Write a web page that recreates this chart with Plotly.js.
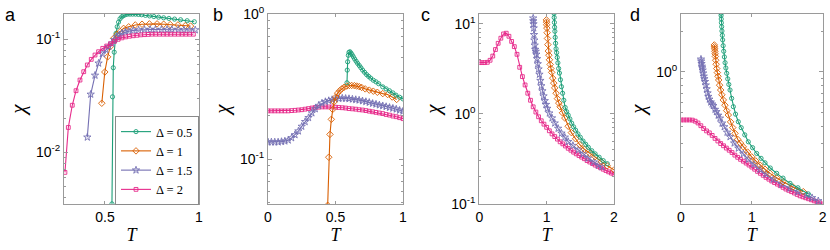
<!DOCTYPE html>
<html>
<head>
<meta charset="utf-8">
<script src="https://cdn.plot.ly/plotly-3.0.1.min.js"></script>
<style>html,body{margin:0;padding:0;background:#fff}#chart{width:830px;height:250px}</style>
</head>
<body>
<div id="chart"></div>
<script>
// ---------- Data ----------
const seriesNames = ["Δ = 0.5", "Δ = 1", "Δ = 1.5", "Δ = 2"];
const xTicksA = [0.5, 1], xTickTextA = ["0.5", "1"];
const xTicksB = [0, 0.5, 1], xTickTextB = ["0", "0.5", "1"];
const xTicksCD = [0, 1, 2], xTickTextCD = ["0", "1", "2"];
const yTicksA = [0.01, 0.1], yTickTextA = ["10<sup>-2</sup>", "10<sup>-1</sup>"];
const yTicksB = [0.1, 1], yTickTextB = ["10<sup>-1</sup>", "10<sup>0</sup>"];
const yTicksC = [0.1, 1, 10], yTickTextC = ["10<sup>-1</sup>", "10<sup>0</sup>", "10<sup>1</sup>"];
const yTicksD = [1], yTickTextD = ["10<sup>0</sup>"];
const yMinorA = [0.004,0.005,0.006,0.007,0.008,0.009,0.02,0.03,0.04,0.05,0.06,0.07,0.08,0.09];
const yMinorB = [0.05,0.06,0.07,0.08,0.09,0.2,0.3,0.4,0.5,0.6,0.7,0.8,0.9];
const yMinorC = [0.2,0.3,0.4,0.5,0.6,0.7,0.8,0.9,2,3,4,5,6,7,8,9];
const yMinorD = [0.2,0.3,0.4,0.5,0.6,0.7,0.8,0.9,2];

// Panel a
const aT05 = [0.537,0.540,0.544,0.549,0.554,0.559,0.565,0.572,0.580,0.589,0.598,0.608,0.620,0.633,0.647,0.662,0.678,0.695,0.715,0.737,0.760,0.785,0.812,0.840,0.870,0.902,0.937,0.975];
const aX05 = [0.0035,0.031,0.056,0.077,0.097,0.113,0.129,0.142,0.152,0.158,0.162,0.165,0.167,0.167,0.167,0.167,0.166,0.165,0.163,0.161,0.159,0.157,0.155,0.153,0.151,0.149,0.146,0.143];
const aT1 = [0.483,0.499,0.514,0.528,0.546,0.564,0.581,0.599,0.626,0.661,0.697,0.736,0.777,0.812,0.847,0.888,0.927,0.955];
const aX1 = [0.0272,0.0514,0.070,0.086,0.102,0.111,0.117,0.125,0.129,0.134,0.136,0.137,0.137,0.136,0.135,0.134,0.132,0.131];
const aT15 = [0.406,0.424,0.447,0.466,0.486,0.505,0.520,0.537,0.550,0.564,0.577,0.590,0.608,0.626,0.650,0.679,0.710,0.740,0.768,0.800,0.830,0.856,0.890,0.920,0.950,0.980];
const aX15 = [0.0136,0.0326,0.048,0.0614,0.0745,0.081,0.0865,0.0922,0.099,0.105,0.109,0.113,0.116,0.118,0.120,0.121,0.122,0.122,0.122,0.122,0.122,0.122,0.122,0.121,0.121,0.121];
const aT2 = [0.287,0.305,0.326,0.346,0.367,0.387,0.406,0.427,0.447,0.466,0.488,0.509,0.530,0.550,0.570,0.590,0.610,0.630,0.650,0.670,0.690,0.710,0.730,0.750,0.770,0.790,0.810,0.830,0.850,0.870,0.890,0.910,0.930,0.950,0.970];
const aX2 = [0.00665,0.0166,0.0261,0.0351,0.0436,0.0517,0.0593,0.0665,0.0726,0.0777,0.0832,0.0872,0.0915,0.096,0.100,0.103,0.105,0.1065,0.1075,0.1085,0.1095,0.110,0.1105,0.111,0.111,0.111,0.111,0.111,0.111,0.111,0.111,0.111,0.111,0.111,0.111];

// Panel b
const bT05 = [0.585,0.587,0.590,0.595,0.600,0.607,0.615,0.623,0.632,0.642,0.653,0.664,0.676,0.688,0.701,0.715,0.730,0.745,0.760,0.780,0.800,0.820,0.850,0.875,0.900,0.925,0.948,0.975,1.000];
const bX05 = [0.336,0.411,0.469,0.520,0.545,0.550,0.538,0.524,0.508,0.490,0.473,0.457,0.442,0.427,0.411,0.397,0.383,0.372,0.362,0.350,0.341,0.331,0.315,0.305,0.296,0.286,0.276,0.267,0.260];
const bT1 = [0.442,0.450,0.459,0.469,0.479,0.489,0.502,0.516,0.531,0.546,0.564,0.583,0.602,0.620,0.640,0.657,0.676,0.694,0.720,0.750,0.780,0.810,0.850,0.886,0.920,0.953];
const bX1 = [0.048,0.103,0.148,0.188,0.220,0.248,0.268,0.285,0.296,0.305,0.313,0.319,0.322,0.322,0.321,0.319,0.316,0.312,0.305,0.299,0.294,0.289,0.283,0.279,0.268,0.258];
const bT15 = [0,0.025,0.05,0.075,0.1,0.125,0.15,0.175,0.2,0.225,0.25,0.275,0.3,0.325,0.35,0.375,0.4,0.425,0.45,0.475,0.5,0.525,0.55,0.575,0.6,0.625,0.65,0.675,0.7,0.725,0.75,0.775,0.8,0.825,0.85,0.875,0.9,0.925,0.95,0.975,1.0];
const bX15 = [0.131,0.131,0.131,0.131,0.132,0.133,0.135,0.140,0.147,0.156,0.168,0.181,0.193,0.208,0.222,0.234,0.243,0.249,0.253,0.257,0.260,0.262,0.263,0.262,0.261,0.259,0.257,0.255,0.252,0.249,0.246,0.242,0.239,0.236,0.233,0.230,0.227,0.224,0.221,0.217,0.214];
const bT2 = [0,0.025,0.05,0.075,0.1,0.125,0.15,0.175,0.2,0.225,0.25,0.275,0.3,0.325,0.35,0.375,0.4,0.425,0.45,0.475,0.5,0.525,0.55,0.575,0.6,0.625,0.65,0.675,0.7,0.725,0.75,0.775,0.8,0.825,0.85,0.875,0.9,0.925,0.95,0.975,1.0];
const bX2 = [0.215,0.215,0.215,0.215,0.215,0.215,0.215,0.216,0.217,0.218,0.219,0.221,0.223,0.225,0.227,0.228,0.229,0.229,0.229,0.229,0.228,0.227,0.226,0.225,0.223,0.222,0.221,0.219,0.218,0.216,0.214,0.212,0.210,0.208,0.206,0.203,0.201,0.198,0.196,0.193,0.190];

// Panel c
const cT05 = [1.110,1.112,1.115,1.118,1.122,1.127,1.133,1.140,1.148,1.157,1.167,1.178,1.190,1.205,1.220,1.237,1.255,1.275,1.297,1.320,1.345,1.372,1.400,1.430,1.465,1.500,1.540,1.580,1.620,1.670,1.720,1.780,1.840,1.900];
const cX05 = [13.1,11.8,10.4,9.2,8.3,7.1,6.1,5.3,4.8,4.25,3.7,3.2,2.85,2.4,2.01,1.7,1.42,1.18,1.06,0.97,0.88,0.79,0.72,0.66,0.60,0.55,0.50,0.46,0.425,0.39,0.36,0.33,0.303,0.28];
const cT1 = [0.996,0.998,1.000,1.003,1.007,1.012,1.018,1.025,1.033,1.042,1.052,1.063,1.075,1.090,1.105,1.120,1.140,1.160,1.180,1.200,1.235,1.270,1.320,1.367,1.430,1.492,1.560,1.640,1.720,1.813,1.900,2.000];
const cX1 = [11.1,10.5,9.8,9.0,8.0,6.9,5.9,5.0,4.5,4.0,3.55,3.2,2.9,2.5,2.2,1.95,1.7,1.48,1.32,1.2,1.03,0.9,0.73,0.62,0.53,0.455,0.405,0.366,0.335,0.295,0.265,0.239];
const cT15 = [0.800,0.802,0.805,0.808,0.812,0.817,0.823,0.830,0.838,0.847,0.857,0.868,0.880,0.893,0.907,0.921,0.937,0.954,0.972,0.990,1.010,1.040,1.080,1.120,1.170,1.220,1.270,1.320,1.390,1.470,1.540,1.615,1.700,1.770,1.820];
const cX15 = [11.6,10.8,10.0,9.0,7.6,6.6,5.8,5.2,4.95,4.6,4.1,3.6,3.15,2.75,2.35,2.05,1.8,1.58,1.4,1.27,1.15,1.02,0.9,0.79,0.69,0.61,0.55,0.492,0.445,0.398,0.36,0.322,0.292,0.27,0.258];
const cT2 = [0,0.04,0.08,0.12,0.16,0.2,0.24,0.28,0.32,0.36,0.4,0.44,0.48,0.52,0.56,0.6,0.64,0.68,0.72,0.76,0.8,0.84,0.88,0.92,0.96,1.0,1.04,1.08,1.12,1.16,1.2,1.24,1.28,1.32,1.36,1.4,1.44,1.48,1.52,1.56,1.6,1.64,1.68,1.72,1.76,1.8,1.84,1.88,1.92,1.96,2.0];
const cX2 = [3.72,3.72,3.72,3.75,3.95,4.4,5.2,6.1,6.95,7.75,7.9,7.3,6.4,5.6,4.6,3.3,2.6,2.1,1.7,1.42,1.2,1.05,0.93,0.84,0.77,0.71,0.65,0.6,0.56,0.525,0.49,0.465,0.44,0.415,0.395,0.376,0.36,0.345,0.331,0.318,0.303,0.292,0.281,0.27,0.261,0.252,0.243,0.235,0.227,0.22,0.213];

// Panel d
const dT05 = [0.565,0.566,0.568,0.570,0.574,0.578,0.583,0.588,0.595,0.603,0.612,0.622,0.633,0.645,0.660,0.675,0.692,0.715,0.739,0.770,0.809,0.850,0.900,0.950,1.010,1.068,1.130,1.186,1.260,1.350,1.440,1.539,1.650,1.797];
const dX05 = [2.7,2.6,2.45,2.3,2.15,2.0,1.86,1.72,1.56,1.42,1.29,1.17,1.07,0.978,0.89,0.81,0.737,0.64,0.556,0.49,0.431,0.39,0.345,0.307,0.278,0.252,0.232,0.215,0.197,0.18,0.166,0.152,0.141,0.127];
const dT1 = [0.470,0.472,0.475,0.478,0.481,0.485,0.490,0.496,0.504,0.513,0.522,0.532,0.545,0.560,0.577,0.597,0.620,0.645,0.668,0.700,0.730,0.762,0.800,0.840,0.879,0.940,0.998,1.055,1.115,1.185,1.256,1.350,1.440,1.580,1.726];
const dX1 = [1.58,1.53,1.48,1.42,1.36,1.3,1.22,1.14,1.06,0.99,0.93,0.873,0.8,0.737,0.68,0.623,0.57,0.52,0.483,0.43,0.39,0.354,0.32,0.3,0.282,0.258,0.238,0.222,0.207,0.193,0.18,0.167,0.156,0.143,0.132];
const dT15 = [0.282,0.285,0.290,0.295,0.300,0.306,0.313,0.321,0.330,0.339,0.350,0.362,0.375,0.386,0.400,0.420,0.440,0.456,0.480,0.500,0.525,0.550,0.580,0.610,0.650,0.692,0.750,0.809,0.880,0.950,1.030,1.115,1.200,1.303,1.420,1.539,1.650,1.774,1.850,1.938];
const dX15 = [1.24,1.2,1.15,1.1,1.07,1.03,0.98,0.93,0.89,0.849,0.8,0.75,0.7,0.66,0.63,0.6,0.58,0.565,0.53,0.51,0.48,0.457,0.42,0.395,0.36,0.334,0.3,0.275,0.25,0.228,0.21,0.192,0.178,0.163,0.15,0.14,0.132,0.125,0.119,0.113];
const dT2 = [0,0.04,0.08,0.12,0.16,0.2,0.24,0.28,0.32,0.36,0.4,0.44,0.48,0.52,0.56,0.6,0.64,0.68,0.72,0.76,0.8,0.84,0.88,0.92,0.96,1.0,1.04,1.08,1.12,1.16,1.2,1.24,1.28,1.32,1.36,1.4,1.44,1.48,1.52,1.56,1.6,1.64,1.68,1.72,1.76,1.8,1.84,1.88,1.92,1.96,2.0];
const dX2 = [0.444,0.444,0.444,0.444,0.443,0.435,0.422,0.403,0.384,0.369,0.357,0.342,0.325,0.311,0.298,0.287,0.276,0.266,0.256,0.245,0.236,0.228,0.221,0.214,0.207,0.2,0.193,0.186,0.18,0.174,0.168,0.163,0.158,0.154,0.15,0.146,0.142,0.138,0.135,0.132,0.129,0.126,0.123,0.121,0.119,0.117,0.115,0.113,0.111,0.109,0.107];

// ---------- Styles ----------
const colors = ["#1b9e77", "#d95f02", "#7570b3", "#e7298a"];
const symbols = ["circle-open", "diamond-open", "star-open", "square-open"];
const msize = [4.2, 5, 5.5, 3.8];

function tr(x, y, i, k, show) {
  const sfx = k === 1 ? "" : String(k);
  return {
    type: "scatter", mode: "lines+markers", x: x, y: y,
    xaxis: "x" + sfx, yaxis: "y" + sfx,
    name: seriesNames[i], showlegend: !!show, legendgroup: "g" + i,
    line: {color: colors[i], width: 1.1},
    marker: {symbol: symbols[i], size: msize[i], color: colors[i], line: {width: 0.9, color: colors[i]}}
  };
}

const data = [
  tr(aT05, aX05, 0, 1, true), tr(aT1, aX1, 1, 1, true), tr(aT15, aX15, 2, 1, true), tr(aT2, aX2, 3, 1, true),
  tr(bT2, bX2, 3, 2), tr(bT15, bX15, 2, 2), tr(bT1, bX1, 1, 2), tr(bT05, bX05, 0, 2),
  tr(cT2, cX2, 3, 3), tr(cT15, cX15, 2, 3), tr(cT1, cX1, 1, 3), tr(cT05, cX05, 0, 3),
  tr(dT2, dX2, 3, 4), tr(dT15, dX15, 2, 4), tr(dT1, dX1, 1, 4), tr(dT05, dX05, 0, 4)
];

const W = 830, H = 250;
const axCol = "#9a9a9a";
const tickFont = {family: "Liberation Sans, Arial, sans-serif", size: 14, color: "#000"};
const yDom = [1 - 204 / H, 1 - 14 / H];

function xax(l, r, range, tv, tt, anchor) {
  return {
    domain: [l / W, r / W], range: range, tickmode: "array", tickvals: tv, ticktext: tt,
    ticks: "inside", ticklen: 3, tickcolor: axCol, showline: true, linecolor: axCol, linewidth: 1,
    mirror: "ticks", showgrid: false, zeroline: false, tickfont: tickFont, anchor: anchor,
    title: {text: "<i>T</i>", font: {family: "Liberation Serif, serif", size: 18, color: "#000"}, standoff: 4}
  };
}
function yax(range, anchor, tv, tt) {
  return {
    domain: yDom, type: "log", range: range, tickmode: "array", tickvals: tv, ticktext: tt,
    ticks: "inside", ticklen: 4, tickcolor: axCol,
    showline: true, linecolor: axCol, linewidth: 1, mirror: "ticks", showgrid: false, zeroline: false,
    tickfont: tickFont, anchor: anchor,
    title: {text: "<i>χ</i>", font: {family: "Liberation Serif, serif", size: 21, color: "#000"}, standoff: 4}
  };
}
function yminor(range, anchor, over, tv) {
  return {
    domain: yDom, type: "log", range: range, overlaying: over, anchor: anchor, side: "left",
    tickmode: "array", tickvals: tv, showticklabels: false,
    ticks: "inside", ticklen: 2, tickcolor: axCol, showline: false, mirror: "ticks",
    showgrid: false, zeroline: false
  };
}

const rA = [-2.457, -0.776], rB = [-1.31, 0.001], rC = [-1.001, 1.111], rD = [-0.97, 0.426];

const layout = {
  width: W, height: H, margin: {l: 0, r: 0, t: 0, b: 0},
  paper_bgcolor: "#fff", plot_bgcolor: "#fff",
  xaxis: xax(64, 199, [0.282, 1.0], xTicksA, xTickTextA, "y"),
  yaxis: yax(rA, "x", yTicksA, yTickTextA),
  xaxis2: xax(268, 403, [0, 1.0], xTicksB, xTickTextB, "y2"),
  yaxis2: yax(rB, "x2", yTicksB, yTickTextB),
  xaxis3: xax(479.3, 614, [0, 2], xTicksCD, xTickTextCD, "y3"),
  yaxis3: yax(rC, "x3", yTicksC, yTickTextC),
  xaxis4: xax(681, 822.7, [0, 2], xTicksCD, xTickTextCD, "y4"),
  yaxis4: yax(rD, "x4", yTicksD, yTickTextD),
  yaxis5: yminor(rA, "x", "y", yMinorA),
  yaxis6: yminor(rB, "x2", "y2", yMinorB),
  yaxis7: yminor(rC, "x3", "y3", yMinorC),
  yaxis8: yminor(rD, "x4", "y4", yMinorD),
  showlegend: true,
  legend: {
    x: 199 / W, y: 1 - 116 / H, xanchor: "right", yanchor: "top",
    bgcolor: "#fff", bordercolor: "#8a8a8a", borderwidth: 1,
    font: {family: "Liberation Serif, serif", size: 12.5, color: "#000"},
    itemwidth: 30, tracegroupgap: 0, traceorder: "normal"
  },
  annotations: [
    ["a", 10], ["b", 218], ["c", 425], ["d", 635]
  ].map(([t, px]) => ({
    text: t, x: px / W, y: 1 - 15 / H, xref: "paper", yref: "paper",
    showarrow: false, xanchor: "center", yanchor: "middle",
    font: {family: "Liberation Sans, Arial, sans-serif", size: 18, color: "#000"}
  }))
};

// invisible traces so the minor-tick overlay axes are drawn
const minorPairs = [["x", "y5"], ["x2", "y6"], ["x3", "y7"], ["x4", "y8"]];
minorPairs.forEach(([xa, ya]) => data.push({
  type: "scatter", mode: "markers", x: [null], y: [null], xaxis: xa, yaxis: ya,
  showlegend: false, hoverinfo: "skip", marker: {opacity: 0}
}));

Plotly.newPlot("chart", data, layout, {displayModeBar: false, staticPlot: true});
</script>
</body>
</html>
